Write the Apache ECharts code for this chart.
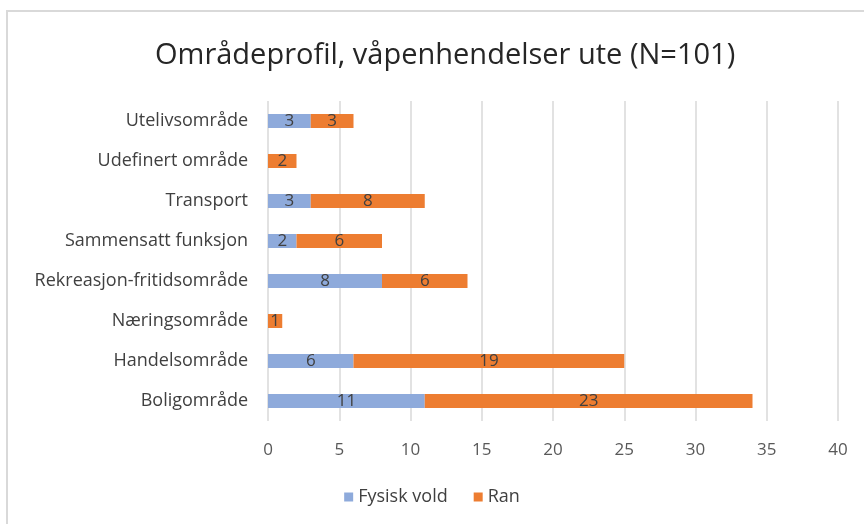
<!DOCTYPE html>
<html><head><meta charset="utf-8">
<script src="https://cdn.jsdelivr.net/npm/echarts@6/dist/echarts.min.js"></script>
<style>html,body{margin:0;padding:0;background:#fff}#c{width:864px;height:524px}</style>
</head><body><div id="c"></div>
<script>
const categories = ['Boligområde','Handelsområde','Næringsområde','Rekreasjon-fritidsområde','Sammensatt funksjon','Transport','Udefinert område','Utelivsområde'];
const fysiskVold = [11, 6, 0, 8, 2, 3, 0, 3];
const ran = [23, 19, 1, 6, 6, 8, 2, 3];
const seriesNames = ['Fysisk vold', 'Ran'];
const titleText = 'Områdeprofil, våpenhendelser ute (N=101)';

const FONT = '"Open Sans", "Noto Sans", sans-serif';
const chart = echarts.init(document.getElementById('c'), null, {renderer: 'canvas'});
const lbl = {
  show: true, position: 'inside', color: '#404040', fontSize: 17, fontFamily: FONT,
  formatter: p => (p.value ? String(p.value) : '')
};
chart.setOption({
  animation: false,
  graphic: [{
    type: 'rect', shape: {x: 7, y: 11, width: 900, height: 600},
    style: {fill: 'none', stroke: '#d9d9d9', lineWidth: 2}, z: -1
  }],
  title: {
    text: titleText, left: 150, top: 36,
    textStyle: {fontFamily: FONT, fontWeight: 'normal', fontSize: 29, color: '#262626'}
  },
  legend: {
    data: seriesNames, bottom: 13, left: 'center', itemWidth: 9, itemHeight: 9, itemGap: 26,
    icon: 'rect', textStyle: {fontFamily: FONT, fontSize: 18, color: '#404040'}
  },
  grid: {left: 268, right: 26, top: 101, bottom: 103, containLabel: false},
  xAxis: {
    type: 'value', min: 0, max: 40, interval: 5,
    axisLine: {show: false}, axisTick: {show: false},
    axisLabel: {fontFamily: FONT, fontSize: 17, color: '#595959', margin: 21},
    splitLine: {lineStyle: {color: '#d9d9d9', width: 1.5}}
  },
  yAxis: {
    type: 'category', data: categories,
    axisLine: {show: false}, axisTick: {show: false},
    axisLabel: {fontFamily: FONT, fontSize: 18, color: '#404040', margin: 20}
  },
  series: [
    {name: seriesNames[0], type: 'bar', stack: 'a', data: fysiskVold, barWidth: 14,
     itemStyle: {color: '#8eaadb'}, label: lbl},
    {name: seriesNames[1], type: 'bar', stack: 'a', data: ran, barWidth: 14,
     itemStyle: {color: '#ed7d31'}, label: lbl}
  ]
});
</script></body></html>
